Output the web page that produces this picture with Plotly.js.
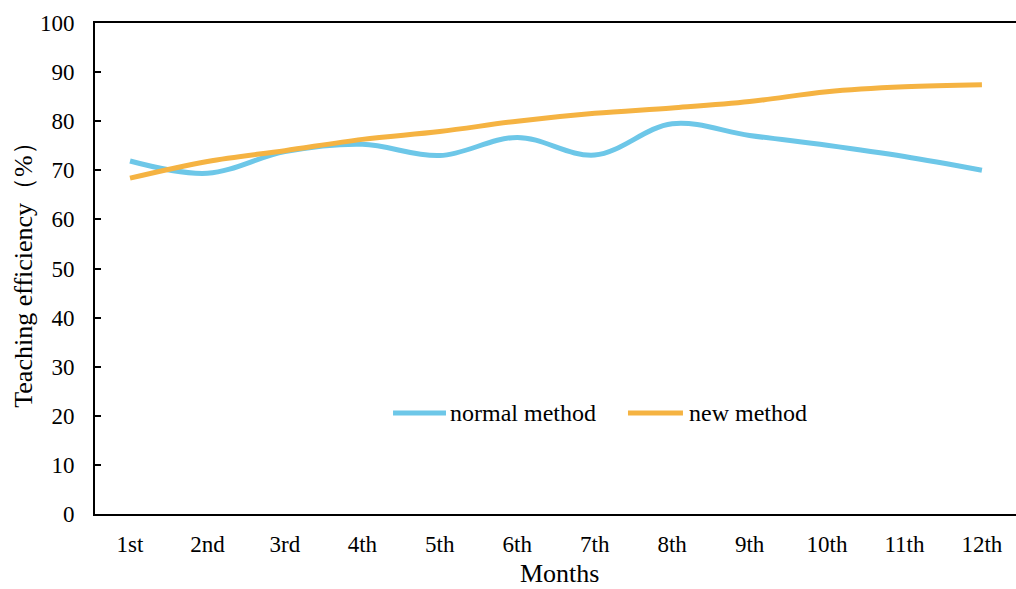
<!DOCTYPE html>
<html>
<head>
<meta charset="utf-8">
<script src="https://cdn.plot.ly/plotly-3.0.1.min.js"></script>
<style>html,body{margin:0;padding:0;background:#fff;overflow:hidden}</style>
</head>
<body>
<div id="chart" style="width:1016px;height:589px"></div>
<script>
const months = ["1st","2nd","3rd","4th","5th","6th","7th","8th","9th","10th","11th","12th"];
const normalMethod = [71.9, 69.4, 73.8, 75.3, 73.0, 76.7, 73.1, 79.5, 77.1, 75.1, 72.8, 70.0];
const newMethod = [68.4, 71.8, 74.0, 76.3, 77.9, 80.0, 81.6, 82.7, 84.0, 86.0, 87.0, 87.4];
const yTicks = [0,10,20,30,40,50,60,70,80,90,100];
const seriesNames = ["normal method", "new method"];
const seriesColors = ["#6DC7E8", "#F5B342"];
const xTitle = "Months";
const yTitle = "Teaching efficiency（%）";

const font = "Liberation Serif, Times New Roman, serif";
const traces = [
  {x: months, y: normalMethod, name: seriesNames[0], type: "scatter", mode: "lines",
   line: {color: seriesColors[0], width: 5, shape: "spline", smoothing: 1}},
  {x: months, y: newMethod, name: seriesNames[1], type: "scatter", mode: "lines",
   line: {color: seriesColors[1], width: 5, shape: "spline", smoothing: 1}}
];

// custom legend (longer line samples like the reference)
const legY = 0.2057;
const legItems = [{x0: 0.3236, x1: 0.3811, tx: 0.3833}, {x0: 0.5787, x1: 0.6384, tx: 0.6428}];
const shapes = legItems.map((p, i) => ({type: "line", xref: "paper", yref: "paper",
  x0: p.x0, x1: p.x1, y0: legY, y1: legY, line: {color: seriesColors[i], width: 5}}));
const annotations = legItems.map((p, i) => ({xref: "paper", yref: "paper", x: p.tx, y: legY,
  xanchor: "left", yanchor: "middle", showarrow: false, text: seriesNames[i],
  font: {family: font, size: 24, color: "#000"}}));
annotations.push({xref: "paper", yref: "paper", x: 0.504, y: -0.1527, xanchor: "center",
  yanchor: "bottom", borderpad: 0, showarrow: false, text: xTitle,
  font: {family: font, size: 26, color: "#000"}});

const layout = {
  width: 1016, height: 589,
  margin: {l: 95, r: 0, t: 23, b: 75},
  paper_bgcolor: "#fff", plot_bgcolor: "#fff",
  font: {family: font, size: 23, color: "#000"},
  showlegend: false,
  shapes: shapes, annotations: annotations,
  xaxis: {type: "category", range: [-0.452, 11.44], showgrid: false, zeroline: false,
          showline: true, linecolor: "#000", linewidth: 2, mirror: true, ticks: "",
          ticklabelstandoff: 8, tickfont: {family: font, size: 23, color: "#000"}},
  yaxis: {range: [0, 100], tickvals: yTicks, showgrid: false, zeroline: false,
          showline: true, linecolor: "#000", linewidth: 2, ticks: "inside", ticklen: 6,
          tickwidth: 2, tickcolor: "#000", ticklabelstandoff: 14,
          tickfont: {family: font, size: 23, color: "#000"},
          title: {text: yTitle, font: {family: font, size: 26, color: "#000"}, standoff: 0}}
};
Plotly.newPlot("chart", traces, layout, {displayModeBar: false, staticPlot: true});
</script>
</body>
</html>
